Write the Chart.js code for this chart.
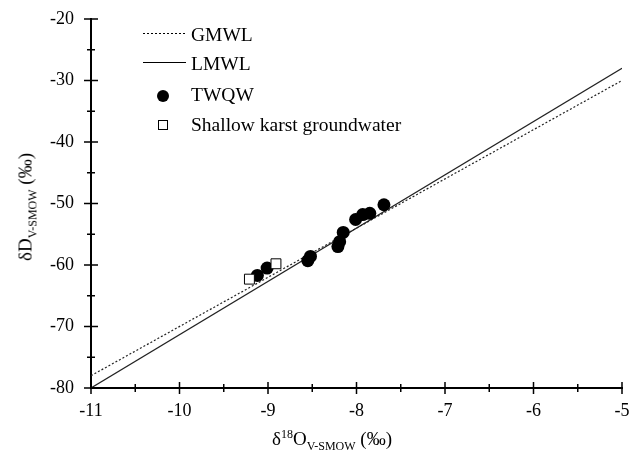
<!DOCTYPE html>
<html>
<head>
<meta charset="utf-8">
<script src="https://cdn.jsdelivr.net/npm/chart.js@4.4.1/dist/chart.umd.min.js"></script>
<style>
  html, body { margin: 0; padding: 0; background: #fff; }
  #wrap { position: relative; width: 638px; height: 454px; font-family: 'Liberation Serif', 'Times New Roman', serif; color: #000; }
  #chart { position: absolute; left: 0; top: 0; }
  .txt { position: absolute; white-space: nowrap; line-height: 1; }
  .leg { font-size: 19.5px; left: 191px; }
  .title { font-size: 19px; }
  .title sub { font-size: 12px; vertical-align: -5px; line-height: 0; }
  .title sup { font-size: 12px; vertical-align: 7px; line-height: 0; }
  #ytitle { left: 25px; top: 207px; transform: translate(-50%, -50%) rotate(-90deg); }
  #xtitle { left: 272px; top: 429px; }
</style>
</head>
<body>
<div id="wrap">
  <canvas id="chart" width="638" height="454"></canvas>
  <div class="txt leg" style="top:25px">GMWL</div>
  <div class="txt leg" style="top:54px">LMWL</div>
  <div class="txt leg" style="top:85px">TWQW</div>
  <div class="txt leg" style="top:115px">Shallow karst groundwater</div>
  <div class="txt title" id="ytitle">δD<sub>V-SMOW</sub> (‰)</div>
  <div class="txt title" id="xtitle">δ<sup>18</sup>O<sub>V-SMOW</sub> (‰)</div>
</div>
<script>
// tick values
const xTicks = [-11, -10, -9, -8, -7, -6, -5];
const yTicks = [-80, -70, -60, -50, -40, -30, -20];

// meteoric water lines (end points)
const gmwlX = [-11, -5];
const gmwlY = [-78, -30];
const lmwlX = [-11, -5];
const lmwlY = [-80, -28];

// TWQW samples
const twqwX = [-7.69, -7.85, -7.93, -8.01, -8.15, -8.19, -8.21, -8.52, -8.55, -9.01, -9.12];
const twqwY = [-50.2, -51.6, -51.8, -52.6, -54.7, -56.2, -57.0, -58.6, -59.3, -60.5, -61.7];

// shallow karst groundwater samples
const shallowX = [-9.21, -8.91];
const shallowY = [-62.3, -59.8];

function toPoints(xs, ys) {
    return xs.map((x, i) => ({ x: x, y: ys[i] }));
}

// ticks crossing the axis line, like the original figure
const axisTicks = {
    id: 'axisTicks',
    afterDraw(chart) {
        const { ctx, chartArea, scales } = chart;
        ctx.save();
        ctx.strokeStyle = '#000';
        ctx.lineWidth = 1.5;
        ctx.beginPath();
        xTicks.forEach((v, i) => {
            const px = scales.x.getPixelForValue(v);
            ctx.moveTo(px, chartArea.bottom - 6);
            ctx.lineTo(px, chartArea.bottom + 6);
            if (i < xTicks.length - 1) {
                const mx = scales.x.getPixelForValue((v + xTicks[i + 1]) / 2);
                ctx.moveTo(mx, chartArea.bottom - 4);
                ctx.lineTo(mx, chartArea.bottom + 4);
            }
        });
        yTicks.forEach((v, i) => {
            const py = scales.y.getPixelForValue(v);
            ctx.moveTo(chartArea.left - 7, py);
            ctx.lineTo(chartArea.left + 7, py);
            if (i < yTicks.length - 1) {
                const my = scales.y.getPixelForValue((v + yTicks[i + 1]) / 2);
                ctx.moveTo(chartArea.left - 4, my);
                ctx.lineTo(chartArea.left + 4, my);
            }
        });
        ctx.stroke();

        // legend symbols
        ctx.lineWidth = 1;
        ctx.setLineDash([2, 2]);
        ctx.beginPath();
        ctx.moveTo(143, 33.5);
        ctx.lineTo(186, 33.5);
        ctx.stroke();
        ctx.setLineDash([]);
        ctx.beginPath();
        ctx.moveTo(143, 62.5);
        ctx.lineTo(186, 62.5);
        ctx.stroke();
        ctx.fillStyle = '#000';
        ctx.beginPath();
        ctx.arc(163, 96, 6, 0, Math.PI * 2);
        ctx.fill();
        ctx.fillStyle = '#fff';
        ctx.fillRect(158.5, 120.5, 9, 9);
        ctx.strokeRect(158.5, 120.5, 9, 9);
        ctx.restore();
    }
};

new Chart(document.getElementById('chart'), {
    type: 'scatter',
    data: {
        datasets: [
            {
                label: 'Shallow karst groundwater',
                data: toPoints(shallowX, shallowY),
                pointStyle: 'rect',
                pointRadius: 7,
                backgroundColor: '#fff',
                borderColor: '#000',
                borderWidth: 1,
                order: 1
            },
            {
                label: 'TWQW',
                data: toPoints(twqwX, twqwY),
                pointStyle: 'circle',
                pointRadius: 6.5,
                backgroundColor: '#000',
                borderColor: '#000',
                borderWidth: 0,
                order: 2
            },
            {
                label: 'LMWL',
                data: toPoints(lmwlX, lmwlY),
                showLine: true,
                pointRadius: 0,
                borderColor: '#222',
                borderWidth: 1.2,
                order: 3
            },
            {
                label: 'GMWL',
                data: toPoints(gmwlX, gmwlY),
                showLine: true,
                pointRadius: 0,
                borderColor: '#222',
                borderWidth: 1.2,
                borderDash: [2, 2],
                order: 4
            }
        ]
    },
    options: {
        responsive: false,
        animation: false,
        layout: { padding: { top: 19, right: 16, bottom: 0, left: 0 } },
        plugins: { legend: { display: false }, tooltip: { enabled: false } },
        scales: {
            x: {
                type: 'linear',
                min: -11,
                max: -5,
                afterBuildTicks: s => { s.ticks = xTicks.map(v => ({ value: v })); },
                afterFit: s => { s.height = 66; s.paddingLeft = 0; s.paddingRight = 0; },
                grid: { display: false, drawTicks: false },
                border: { display: true, color: '#000', width: 2 },
                ticks: { color: '#000', padding: 12, font: { family: 'Liberation Serif', size: 18 } }
            },
            y: {
                type: 'linear',
                min: -80,
                max: -20,
                afterBuildTicks: s => { s.ticks = yTicks.map(v => ({ value: v })); },
                afterFit: s => { s.width = 91; s.paddingTop = 0; s.paddingBottom = 0; },
                grid: { display: false, drawTicks: false },
                border: { display: true, color: '#000', width: 2 },
                ticks: { color: '#000', padding: 17, font: { family: 'Liberation Serif', size: 18 } }
            }
        }
    },
    plugins: [axisTicks]
});
</script>
</body>
</html>
